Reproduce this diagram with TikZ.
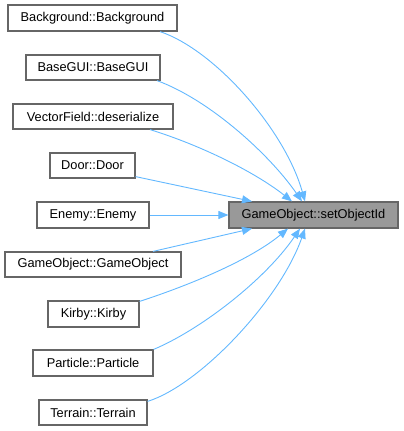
\documentclass[tikz,border=0pt]{standalone}
\usepackage{fontspec}
\setmainfont{Liberation Sans}
\usetikzlibrary{arrows.meta}
\definecolor{edgeblue}{HTML}{63B8FF}
\definecolor{boxgray}{HTML}{666666}
\definecolor{targetfill}{HTML}{999999}
\begin{document}
\begin{tikzpicture}[x=1pt,y=-1pt,
  box/.style={draw=boxgray,line width=1.2pt,fill=white,inner sep=0pt,minimum height=25pt,
    font=\fontsize{12.8}{15}\selectfont,anchor=center},
  target/.style={box,fill=targetfill},
  edge/.style={draw=edgeblue,line width=0.9pt,-{Triangle[length=10pt,width=8pt]}}]
\useasboundingbox (0,0) rectangle (404,431);
\node[box,minimum width=169pt,minimum height=26pt] (bg) at (92.5,18) {Background::Background};
\node[box,minimum width=134pt] (gui) at (93,67.5) {BaseGUI::BaseGUI};
\node[box,minimum width=160pt] (vf) at (93,116.5) {VectorField::deserialize};
\node[box,minimum width=85pt] (door) at (92.5,165.5) {Door::Door};
\node[box,minimum width=112pt,minimum height=26pt] (enemy) at (93,215) {Enemy::Enemy};
\node[box,minimum width=176pt] (goc) at (93,264.5) {GameObject::GameObject};
\node[box,minimum width=91pt,minimum height=26pt] (kirby) at (93.5,314) {Kirby::Kirby};
\node[box,minimum width=120pt,minimum height=26pt] (particle) at (93,363) {Particle::Particle};
\node[box,minimum width=108pt] (terrain) at (93,412.5) {Terrain::Terrain};
\node[target,minimum width=169pt,minimum height=26pt] (t) at (313.5,215) {GameObject::setObjectId};

\draw[edge] ([xshift=67.5pt]bg.south) .. controls (215,50) and (285,130) .. ([xshift=-8.5pt]t.north);
\draw[edge] ([xshift=64pt]gui.south) .. controls (210,100) and (270,155) .. ([xshift=-11.5pt]t.north);
\draw[edge] ([xshift=57pt]vf.south) .. controls (200,145) and (255,172) .. ([xshift=-21.5pt]t.north);
\draw[edge] ([yshift=2pt]door.south east) -- ([xshift=-61.5pt]t.north);
\draw[edge] (enemy.east) -- (t.west);
\draw[edge] ([xshift=60pt]goc.north) -- ([xshift=-61.5pt]t.south);
\draw[edge] ([yshift=-1pt]kirby.north east) .. controls (190,285) and (250,260) .. ([xshift=-25.5pt]t.south);
\draw[edge] (particle.north east) .. controls (200,330) and (265,280) .. ([xshift=-13.5pt]t.south);
\draw[edge] ([yshift=-2pt]terrain.north east) .. controls (200,385) and (280,300) .. ([xshift=-8.5pt]t.south);
\end{tikzpicture}
\end{document}
